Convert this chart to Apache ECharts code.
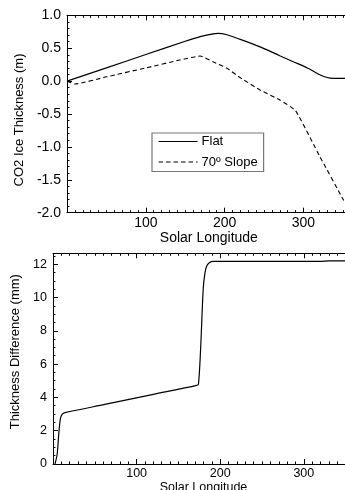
<!DOCTYPE html>
<html><head><meta charset="utf-8">
<script src="https://cdn.jsdelivr.net/npm/echarts@6/dist/echarts.min.js"></script>
<style>html,body{margin:0;padding:0;background:#fff;}#c{width:345px;height:490px;}</style>
</head><body><div id="c"></div>
<script>
// Top panel: CO2 ice thickness (m) vs solar longitude
const lonFlat = [0, 50, 100, 150, 169, 180, 192, 203, 215, 245, 270, 287, 305, 317, 326, 334, 345, 360];
const thickFlat = [0.0, 0.2, 0.405, 0.605, 0.675, 0.705, 0.726, 0.705, 0.655, 0.52, 0.385, 0.295, 0.2, 0.12, 0.07, 0.045, 0.04, 0.04];
const lonSlope = [0, 10, 50, 100, 143, 169, 186, 203, 220, 245, 270, 290, 321, 351, 360];
const thickSlope = [0.0, -0.045, 0.065, 0.2, 0.32, 0.381, 0.29, 0.195, 0.05, -0.135, -0.287, -0.45, -1.15, -1.81, -2.0];
// Bottom panel: thickness difference (mm)
const lonDiff = [2.4, 5, 7.2, 9, 11, 14.3, 62, 120, 172, 174, 176.5, 179.6, 181.5, 183.6, 187, 191.5, 250, 320, 330, 360];
const diffMM = [0, 0.6, 2.0, 2.75, 2.98, 3.08, 3.58, 4.18, 4.72, 4.8, 6.85, 10.46, 11.4, 11.86, 12.08, 12.16, 12.16, 12.16, 12.2, 12.2];
const xTicksMajor = 100, xTicksMinor = 10;
const legendNames = ['Flat', '70º Slope'];

const FONT = "'Liberation Sans', Arial, Helvetica, sans-serif";
const pair = (xs, ys) => xs.map((x, i) => [x, ys[i]]);

function xAx(grid, pos, interval, major, labels, fs, name, nameGap, margin) {
  return {
    type: 'value', gridIndex: grid, position: pos, min: 0, max: 360, interval: interval,
    axisLine: { show: major, onZero: false, lineStyle: { color: '#000', width: 1 } },
    axisTick: { show: true, inside: true, length: major ? 5 : 2.5, lineStyle: { color: '#000', width: 1 } },
    axisLabel: { show: labels, showMinLabel: false, showMaxLabel: false, color: '#000', fontSize: fs, fontFamily: FONT, margin: margin || 3 },
    splitLine: { show: false },
    name: name || '', nameLocation: 'middle', nameGap: nameGap || 0,
    nameTextStyle: { color: '#000', fontSize: fs, fontFamily: FONT }
  };
}
function yAx(grid, pos, min, max, interval, major, labels, fs, name, nameGap, namePad, nameFs) {
  return {
    type: 'value', gridIndex: grid, position: pos, min: min, max: max, interval: interval,
    axisLine: { show: major, onZero: false, lineStyle: { color: '#000', width: 1 } },
    axisTick: { show: true, inside: true, length: major ? 5 : 2.5, lineStyle: { color: '#000', width: 1 } },
    axisLabel: { show: labels, showMaxLabel: labels && max === 1, color: '#000', fontSize: fs, fontFamily: FONT, margin: 6,
      formatter: v => (interval === 0.5 ? v.toFixed(1) : String(v)) },
    splitLine: { show: false },
    name: name || '', nameLocation: 'middle', nameGap: nameGap || 0,
    nameTextStyle: { color: '#000', fontSize: nameFs || fs, fontFamily: FONT, padding: namePad || 0 }
  };
}

// Axis order per grid: major(bottom/left), major(top/right), minor, minor
// (ECharts flips an axis to the free side when its side is taken).
const option = {
  animation: false,
  backgroundColor: '#fff',
  grid: [
    { left: 67, top: 15.3, width: 283.7, height: 197.4, containLabel: false, outerBoundsMode: 'none' },
    { left: 53, top: 253.3, width: 301, height: 210.7, containLabel: false, outerBoundsMode: 'none' }
  ],
  xAxis: [
    xAx(0, 'bottom', xTicksMajor, true, true, 14, 'Solar Longitude', 18, 3),
    xAx(0, 'top', xTicksMajor, true, false, 14),
    xAx(0, 'top', xTicksMinor, false, false, 14),
    xAx(0, 'bottom', xTicksMinor, false, false, 14),
    xAx(1, 'bottom', xTicksMajor, true, true, 12.5, 'Solar Longitude', 14, 3),
    xAx(1, 'top', xTicksMajor, true, false, 12.5),
    xAx(1, 'top', xTicksMinor, false, false, 12.5),
    xAx(1, 'bottom', xTicksMinor, false, false, 12.5)
  ],
  yAxis: [
    yAx(0, 'left', -2, 1, 0.5, true, true, 14, 'CO2 Ice Thickness (m)', 40, [0, 12, 0, 0], 13),
    yAx(0, 'right', -2, 1, 0.5, true, false, 14),
    yAx(0, 'right', -2, 1, 0.1, false, false, 14),
    yAx(0, 'left', -2, 1, 0.1, false, false, 14),
    yAx(1, 'left', 0, 12.65, 2, true, true, 12.5, 'Thickness Difference (mm)', 24, [0, 0, 0, 14], 13),
    yAx(1, 'right', 0, 12.65, 2, true, false, 12.5),
    yAx(1, 'right', 0, 12.65, 0.5, false, false, 12.5),
    yAx(1, 'left', 0, 12.65, 0.5, false, false, 12.5)
  ],
  legend: {
    show: true, data: legendNames, orient: 'vertical', left: 152, top: 133,
    backgroundColor: '#fff', borderColor: '#777', borderWidth: 1.2, borderRadius: 0,
    padding: [2, 6, 3, 6], itemWidth: 39, itemHeight: 14, itemGap: 7.5,
    itemStyle: { opacity: 0 },
    lineStyle: { width: 1.1 },
    textStyle: { color: '#000', fontSize: 13, fontFamily: FONT, padding: [0, 0, 0, -1] }
  },
  series: [
    { name: legendNames[0], type: 'line', xAxisIndex: 0, yAxisIndex: 0, data: pair(lonFlat, thickFlat),
      symbol: 'none', smooth: 0.3, lineStyle: { color: '#000', width: 1.2 }, itemStyle: { color: '#000' } },
    { name: legendNames[1], type: 'line', xAxisIndex: 0, yAxisIndex: 0, data: pair(lonSlope, thickSlope),
      symbol: 'none', smooth: 0.15, lineStyle: { color: '#000', width: 1.1, type: [4.5, 3] }, itemStyle: { color: '#000' } },
    { name: 'diff', type: 'line', xAxisIndex: 4, yAxisIndex: 4, data: pair(lonDiff, diffMM),
      symbol: 'none', smooth: 0.3, lineStyle: { color: '#000', width: 1.2 }, itemStyle: { color: '#000' } }
  ]
};
const chart = echarts.init(document.getElementById('c'), null, { renderer: 'canvas' });
chart.setOption(option);
</script>
</body></html>
